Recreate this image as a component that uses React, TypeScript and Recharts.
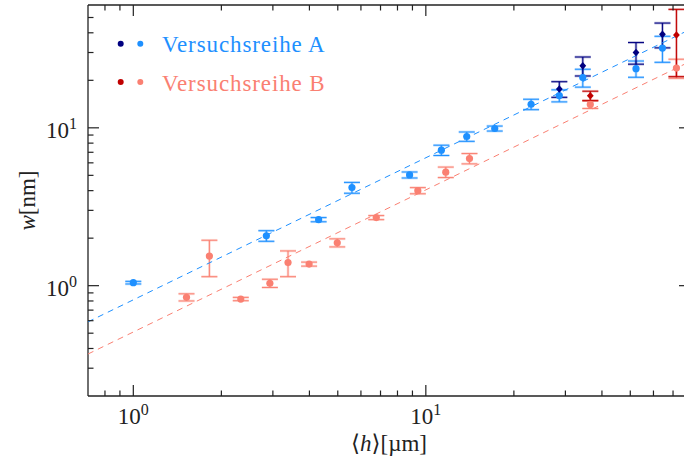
import React from "react";
import { ComposedChart, Scatter, XAxis, YAxis, ErrorBar, Legend } from "recharts";

// Versuchsreihe A (hell) – <h> in µm, w in nm, Fehler in nm
const hA = [1.0, 2.85, 4.3, 5.59, 8.8, 11.3, 13.8, 17.2, 22.9, 28.6, 34.4, 52.3, 64.4];
const wA = [1.045, 2.07, 2.62, 4.18, 5.03, 7.22, 8.81, 9.9, 14.1, 16.0, 20.8, 23.7, 32.0];
const errA = [0.02, 0.16, 0.08, 0.33, 0.22, 0.54, 0.6, 0.36, 1.07, 1.4, 2.7, 2.8, 6.0];

// Versuchsreihe A (dunkel)
const hA2 = [28.6, 34.4, 52.3, 64.4];
const wA2 = [17.6, 24.7, 30.0, 39.1];
const errA2 = [2.0, 3.4, 4.7, 7.0];

// Versuchsreihe B (hell)
const hB = [1.52, 1.82, 2.33, 2.93, 3.38, 3.99, 4.98, 6.77, 9.39, 11.7, 14.1, 36.5, 71.9];
const wB = [0.844, 1.54, 0.823, 1.036, 1.4, 1.37, 1.87, 2.7, 4.0, 5.24, 6.39, 14.06, 23.9];
const errB = [0.044, 0.4, 0.02, 0.062, 0.26, 0.04, 0.11, 0.08, 0.18, 0.4, 0.48, 0.8, 3.3];

// Versuchsreihe B (dunkel)
const hB2 = [36.5, 71.9];
const wB2 = [15.96, 38.7];
const errB2 = [1.1, 17.6];

// Fitgeraden (Endpunkte)
const fitH = [0.7, 80];
const fitWA = [0.59, 42.0];
const fitWB = [0.369, 26.3];

const xTicks = [0.8, 0.9, 1, 2, 3, 4, 5, 6, 7, 8, 9, 10, 20, 30, 40, 50, 60, 70];
const yTicks = [0.3, 0.4, 0.5, 0.6, 0.7, 0.8, 0.9, 1, 2, 3, 4, 5, 6, 7, 8, 9, 10, 20, 30, 40, 50];

const BLUE = "#1E90FF";
const NAVY = "#000080";
const SALMON = "#FA8072";
const DARKRED = "#C00000";
const AXIS = "#222222";
const FONT = '"Liberation Serif", "Times New Roman", Tinos, "DejaVu Serif", "Noto Serif", serif';
const txt = { fontFamily: FONT };

const pts = (h: number[], w: number[], e?: number[]) =>
  h.map((v, i) => ({ h: v, w: w[i], e: e ? e[i] : 0 }));

const dataA = pts(hA, wA, errA);
const dataA2 = pts(hA2, wA2, errA2);
const dataB = pts(hB, wB, errB);
const dataB2 = pts(hB2, wB2, errB2);
const fitA = pts(fitH, fitWA);
const fitB = pts(fitH, fitWB);

const isMajor = (v: number) => Math.abs(Math.log10(v) - Math.round(Math.log10(v))) < 1e-9;

const MAJOR = 11;
const MINOR = 5.5;

const BottomTick = (props: any) => {
  const { x, y, payload } = props;
  const major = isMajor(payload.value);
  return (
    <g>
      <line x1={x} x2={x} y1={y} y2={y - (major ? MAJOR : MINOR)} stroke={AXIS} strokeWidth={1.2} />
      {major && (
        <text x={x} y={y + 28} textAnchor="middle" style={txt} fontSize={23} fill={AXIS}>
          10
          <tspan dy={-9} fontSize={16}>
            {Math.round(Math.log10(payload.value))}
          </tspan>
        </text>
      )}
    </g>
  );
};

const TopTick = (props: any) => {
  const { x, y, payload } = props;
  const major = isMajor(payload.value);
  return <line x1={x} x2={x} y1={y} y2={y + (major ? MAJOR : MINOR)} stroke={AXIS} strokeWidth={1.2} />;
};

const LeftTick = (props: any) => {
  const { x, y, payload } = props;
  const major = isMajor(payload.value);
  return (
    <g>
      <line x1={x} x2={x + (major ? MAJOR : MINOR)} y1={y} y2={y} stroke={AXIS} strokeWidth={1.2} />
      {major && (
        <text x={x - 11} y={y + 10} textAnchor="end" style={txt} fontSize={23} fill={AXIS}>
          10
          <tspan dy={-9} fontSize={16}>
            {Math.round(Math.log10(payload.value))}
          </tspan>
        </text>
      )}
    </g>
  );
};

const RightTick = (props: any) => {
  const { x, y, payload } = props;
  const major = isMajor(payload.value);
  return <line x1={x} x2={x - (major ? MAJOR : MINOR)} y1={y} y2={y} stroke={AXIS} strokeWidth={1.2} />;
};

const XLabel = (props: any) => {
  const vb = props.viewBox || {};
  const cx = vb.x + vb.width / 2;
  return (
    <text x={cx} y={vb.y + 55} textAnchor="middle" style={txt} fontSize={23} fill={AXIS}>
      ⟨<tspan fontStyle="italic">h</tspan>⟩[µm]
    </text>
  );
};

const YLabel = (props: any) => {
  const vb = props.viewBox || {};
  const cy = vb.y + vb.height / 2;
  return (
    <text
      x={27}
      y={cy}
      transform={`rotate(-90, 27, ${cy})`}
      textAnchor="middle"
      dominantBaseline="central"
      style={txt}
      fontSize={23}
      fill={AXIS}
    >
      <tspan fontStyle="italic">w</tspan>[nm]
    </text>
  );
};

const dot = (color: string) => (p: any) => <circle cx={p.cx} cy={p.cy} r={3.6} fill={color} />;
const diamond = (color: string) => (p: any) => (
  <path
    d={`M${p.cx},${p.cy - 3.8}L${p.cx + 3.4},${p.cy}L${p.cx},${p.cy + 3.8}L${p.cx - 3.4},${p.cy}Z`}
    fill={color}
  />
);
const none = () => <g />;

const legendText = { ...txt, letterSpacing: "0.9px" };

const LegendBox = () => (
  <svg width={340} height={100} style={{ display: "block" }}>
    <circle cx={120.7} cy={43.7} r={3} fill={NAVY} />
    <circle cx={140.3} cy={43.7} r={3} fill={BLUE} />
    <text x={162} y={52} style={legendText} fontSize={23} fill={BLUE}>
      Versuchsreihe A
    </text>
    <circle cx={120.7} cy={82} r={3} fill={DARKRED} />
    <circle cx={140.3} cy={82} r={3} fill={SALMON} />
    <text x={162} y={90.5} style={legendText} fontSize={23} fill={SALMON}>
      Versuchsreihe B
    </text>
  </svg>
);

const errBars = (color: string) => [
  <ErrorBar key="halo" dataKey="e" direction="y" width={8} stroke={color} strokeOpacity={0.3} strokeWidth={2.6} />,
  <ErrorBar key="line" dataKey="e" direction="y" width={8} stroke={color} strokeWidth={1} />,
];

export default function App() {
  return (
    <div style={{ position: "absolute", left: 0, top: 0, width: 684, height: 461, overflow: "hidden", background: "#fff" }}>
      <ComposedChart width={700} height={461} margin={{ top: 0, right: 0, bottom: 0, left: 0 }}>
        <XAxis
          xAxisId="b"
          dataKey="h"
          type="number"
          scale="log"
          domain={[0.7, 80]}
          allowDataOverflow
          ticks={xTicks}
          interval={0}
          tickLine={false}
          tickSize={0}
          tickMargin={0}
          tick={<BottomTick />}
          height={65}
          axisLine={{ stroke: AXIS, strokeWidth: 1.3 }}
          label={<XLabel />}
        />
        <XAxis
          xAxisId="t"
          dataKey="h"
          orientation="top"
          type="number"
          scale="log"
          domain={[0.7, 80]}
          allowDataOverflow
          ticks={xTicks}
          interval={0}
          tickLine={false}
          tickSize={0}
          tickMargin={0}
          tick={<TopTick />}
          height={5}
          axisLine={{ stroke: AXIS, strokeWidth: 1.3 }}
        />
        <YAxis
          yAxisId="l"
          dataKey="w"
          type="number"
          scale="log"
          domain={[0.2, 60]}
          allowDataOverflow
          ticks={yTicks}
          interval={0}
          tickLine={false}
          tickSize={0}
          tickMargin={0}
          tick={<LeftTick />}
          width={88}
          axisLine={{ stroke: AXIS, strokeWidth: 1.3 }}
          label={<YLabel />}
        />
        <YAxis
          yAxisId="r"
          dataKey="w"
          orientation="right"
          type="number"
          scale="log"
          domain={[0.2, 60]}
          allowDataOverflow
          ticks={yTicks}
          interval={0}
          tickLine={false}
          tickSize={0}
          tickMargin={0}
          tick={<RightTick />}
          width={10}
          axisLine={{ stroke: AXIS, strokeWidth: 1.3 }}
        />
        <Legend
          layout="vertical"
          align="center"
          verticalAlign="middle"
          wrapperStyle={{ top: 0, left: 0, width: 340, height: 100 }}
          content={() => <LegendBox />}
        />
        <Scatter
          name="Fit A"
          data={fitA}
          xAxisId="t"
          yAxisId="r"
          shape={none}
          line={{ stroke: BLUE, strokeWidth: 1, strokeDasharray: "6 5" }}
          isAnimationActive={false}
          legendType="none"
        />
        <Scatter
          name="Fit B"
          data={fitB}
          xAxisId="t"
          yAxisId="r"
          shape={none}
          line={{ stroke: SALMON, strokeWidth: 1, strokeDasharray: "6 5" }}
          isAnimationActive={false}
          legendType="none"
        />
        <Scatter name="Versuchsreihe B" data={dataB} xAxisId="b" yAxisId="l" shape={dot(SALMON)} isAnimationActive={false}>
          {errBars(SALMON)}
        </Scatter>
        <Scatter name="Versuchsreihe B dunkel" data={dataB2} xAxisId="b" yAxisId="l" shape={diamond(DARKRED)} isAnimationActive={false}>
          {errBars(DARKRED)}
        </Scatter>
        <Scatter name="Versuchsreihe A" data={dataA} xAxisId="b" yAxisId="l" shape={dot(BLUE)} isAnimationActive={false}>
          {errBars(BLUE)}
        </Scatter>
        <Scatter name="Versuchsreihe A dunkel" data={dataA2} xAxisId="b" yAxisId="l" shape={diamond(NAVY)} isAnimationActive={false}>
          {errBars(NAVY)}
        </Scatter>
      </ComposedChart>
    </div>
  );
}
